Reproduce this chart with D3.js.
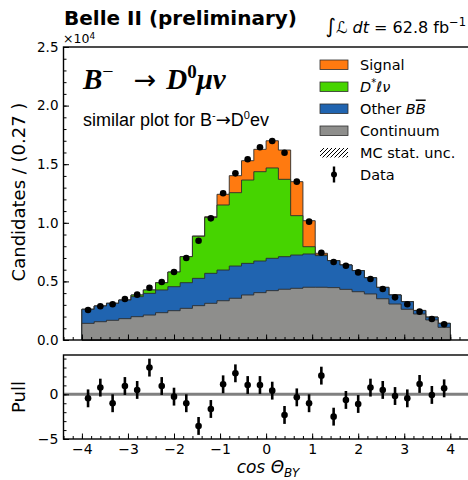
<!DOCTYPE html>
<html>
<head>
<meta charset="utf-8">
<script src="https://cdn.jsdelivr.net/npm/d3@7"></script>
<style>
  body { margin: 0; background: #fff; }
  text { font-family: "DejaVu Sans", sans-serif; fill: #000; }
</style>
</head>
<body>
<svg id="chart" width="468" height="480"></svg>
<script>
// histogram binning of cos(theta_BY), 30 bins from -4 to 4
const binLo = -4, binHi = 4, nBins = 30;

// stacked components, per bin, in units of 1e4 candidates (bottom to top)
const continuum = [0.142, 0.156, 0.168, 0.182, 0.199, 0.213, 0.233, 0.250, 0.270, 0.293,
                   0.313, 0.335, 0.356, 0.384, 0.404, 0.421, 0.433, 0.441, 0.450, 0.450,
                   0.447, 0.432, 0.412, 0.393, 0.352, 0.307, 0.262, 0.222, 0.171, 0.108];
const otherBB   = [0.120, 0.134, 0.145, 0.159, 0.171, 0.185, 0.194, 0.205, 0.219, 0.233,
                   0.256, 0.262, 0.275, 0.270, 0.270, 0.276, 0.278, 0.284, 0.284, 0.270,
                   0.230, 0.208, 0.180, 0.138, 0.097, 0.077, 0.065, 0.030, 0.024, 0.034];
const dstarLnu  = [0, 0, 0, 0, 0.014, 0.029, 0.062, 0.125, 0.222, 0.359,
                   0.476, 0.555, 0.626, 0.711, 0.762, 0.771, 0.660, 0.336, 0.062, 0.005,
                   0, 0, 0, 0, 0, 0, 0, 0, 0, 0];
const signal    = [0, 0, 0, 0, 0, 0, 0, 0, 0, 0.002,
                   0.007, 0.091, 0.145, 0.165, 0.191, 0.232, 0.250, 0.290, 0.222, 0.015,
                   0, 0, 0, 0, 0, 0, 0, 0, 0, 0];
const dataPts   = [0.256, 0.288, 0.305, 0.350, 0.387, 0.446, 0.495, 0.580, 0.700, 0.847,
                   1.038, 1.252, 1.422, 1.542, 1.644, 1.698, 1.598, 1.351, 1.010, 0.745,
                   0.666, 0.634, 0.577, 0.521, 0.435, 0.364, 0.305, 0.242, 0.179, 0.134];
const pulls     = [-0.45, 0.75, -1.0, 0.93, 0.49, 2.99, 0.93, -0.26, -1.0, -3.54,
                   -1.64, 1.12, 2.35, 1.04, 1.04, 0.41, -2.31, -0.34, -1.0, 2.09,
                   -2.5, -0.63, -1.08, 0.75, 0.49, -0.19, -0.45, 1.16, -0.07, 0.67];

const components = [
  {name: "Continuum", values: continuum, color: "#8e8e8c"},
  {name: "Other BB", values: otherBB, color: "#2064b0"},
  {name: "D*lnu", values: dstarLnu, color: "#46d400"},
  {name: "Signal", values: signal, color: "#ff7a10"}
];

const svg = d3.select("#chart");

// defs: hatch for MC stat unc
svg.append("defs").append("pattern")
    .attr("id", "hatch").attr("patternUnits", "userSpaceOnUse")
    .attr("width", 4).attr("height", 4)
  .append("path")
    .attr("d", "M-1,1 l2,-2 M0,4 l4,-4 M3,5 l2,-2")
    .attr("stroke", "#000").attr("stroke-width", 1);

const x = d3.scaleLinear().domain([-4.4, 4.4]).range([63.5, 468.7]);
const y = d3.scaleLinear().domain([0, 2.5]).range([340, 47]);
const yp = d3.scaleLinear().domain([-5, 4.4]).range([439, 355]);

const binW = (binHi - binLo) / nBins;
const edges = d3.range(nBins + 1).map(i => binLo + i * binW);
const centers = d3.range(nBins).map(i => binLo + (i + 0.5) * binW);

// cumulative tops
let cum = new Array(nBins).fill(0);
const layers = components.map(c => {
  cum = cum.map((v, i) => v + c.values[i]);
  return {color: c.color, tops: cum.slice()};
});

function stepPath(tops) {
  let p = "M" + x(edges[0]) + "," + y(0);
  tops.forEach((t, i) => {
    p += "L" + x(edges[i]) + "," + y(t) + "L" + x(edges[i + 1]) + "," + y(t);
  });
  p += "L" + x(edges[nBins]) + "," + y(0) + "Z";
  return p;
}

// draw from largest (total) down so each top outline stays visible
const gMain = svg.append("g");
layers.slice().reverse().forEach(l => {
  gMain.append("path")
    .attr("d", stepPath(l.tops))
    .attr("fill", l.color)
    .attr("stroke", "#2d2d2d")
    .attr("stroke-width", 0.9);
});

gMain.selectAll("circle.data")
  .data(dataPts)
  .join("circle")
    .attr("class", "data")
    .attr("cx", (d, i) => x(centers[i]))
    .attr("cy", d => y(d))
    .attr("r", 3.3)
    .attr("fill", "#000");

// axes, ticks pointing inward
function inwardAxis(axisFn, scale, major, minor, fmt) {
  return [
    axisFn(scale).tickValues(minor).tickSize(-3).tickFormat(""),
    axisFn(scale).tickValues(major).tickSize(-5.5).tickPadding(5).tickFormat(fmt)
  ];
}

const yMajor = d3.range(0, 2.51, 0.5);
const yMinor = d3.range(0, 2.501, 0.1);
inwardAxis(d3.axisLeft, y, yMajor, yMinor, d3.format(".1f")).forEach(a => {
  svg.append("g").attr("transform", "translate(63.5,0)").call(a)
    .call(g => g.select(".domain").remove())
    .call(g => g.selectAll("text").style("font-size", "13.5px"));
});

const xMajor = d3.range(-4, 4.01, 1);
const xMinor = d3.range(-4.4, 4.41, 0.2);
inwardAxis(d3.axisBottom, x, xMajor, xMinor, "").forEach(a => {
  svg.append("g").attr("transform", "translate(0,340)").call(a)
    .call(g => g.select(".domain").remove());
});

svg.append("rect")
  .attr("x", 63.5).attr("y", 47).attr("width", 406).attr("height", 293)
  .attr("fill", "none").attr("stroke", "#000").attr("stroke-width", 1.4);

// pull panel
const gPull = svg.append("g");
gPull.append("line")
  .attr("x1", 63.5).attr("x2", 469).attr("y1", yp(0)).attr("y2", yp(0))
  .attr("stroke", "#808080").attr("stroke-width", 3);

gPull.selectAll("line.err")
  .data(pulls)
  .join("line")
    .attr("class", "err")
    .attr("x1", (d, i) => x(centers[i])).attr("x2", (d, i) => x(centers[i]))
    .attr("y1", d => yp(d - 1)).attr("y2", d => yp(d + 1))
    .attr("stroke", "#000").attr("stroke-width", 2.6);

gPull.selectAll("circle.pull")
  .data(pulls)
  .join("circle")
    .attr("class", "pull")
    .attr("cx", (d, i) => x(centers[i]))
    .attr("cy", d => yp(d))
    .attr("r", 3.3)
    .attr("fill", "#000");

inwardAxis(d3.axisLeft, yp, [-5, 0], d3.range(-5, 4.1, 1), d3.format("d")).forEach(a => {
  svg.append("g").attr("transform", "translate(63.5,0)").call(a)
    .call(g => g.select(".domain").remove())
    .call(g => g.selectAll("text").style("font-size", "14px"));
});
inwardAxis(d3.axisBottom, x, xMajor, xMinor, d3.format("d")).forEach(a => {
  svg.append("g").attr("transform", "translate(0,439)").call(a)
    .call(g => g.select(".domain").remove())
    .call(g => g.selectAll("text").style("font-size", "14px"));
});

svg.append("rect")
  .attr("x", 63.5).attr("y", 355).attr("width", 406).attr("height", 84)
  .attr("fill", "none").attr("stroke", "#000").attr("stroke-width", 1.4);

// labels
svg.append("text")
  .attr("transform", "translate(25,192) rotate(-90)")
  .attr("text-anchor", "middle")
  .style("font-size", "18px")
  .text("Candidates / (0.27 )");

svg.append("text")
  .attr("transform", "translate(25,397) rotate(-90)")
  .attr("text-anchor", "middle")
  .style("font-size", "18px")
  .text("Pull");

const xl = svg.append("text")
  .attr("x", 268).attr("y", 473)
  .attr("text-anchor", "middle")
  .style("font-size", "17px")
  .style("font-style", "italic");
xl.append("tspan").text("cos Θ");
xl.append("tspan").attr("dy", 4).style("font-size", "12px").text("BY");

svg.append("text")
  .attr("x", 64).attr("y", 25)
  .style("font-size", "20px").style("font-weight", "bold")
  .text("Belle II (preliminary)");

const sci = svg.append("text").attr("x", 63).attr("y", 43).style("font-size", "12.5px");
sci.append("tspan").text("×10");
sci.append("tspan").attr("dy", -4.5).style("font-size", "9px").text("4");

const lumi = svg.append("text")
  .attr("x", 466).attr("y", 33)
  .attr("text-anchor", "end")
  .style("font-size", "16px");
lumi.append("tspan").style("font-size", "20px").text("∫");
lumi.append("tspan").style("font-style", "italic").text("ℒ dt");
lumi.append("tspan").text(" = 62.8 fb");
lumi.append("tspan").attr("dy", -7).style("font-size", "11.5px").text("−1");

// decay label
const decay = svg.append("text")
  .attr("x", 83).attr("y", 89)
  .style("font-family", "'Liberation Serif', serif")
  .style("font-size", "29px");
decay.append("tspan").style("font-weight", "bold").style("font-style", "italic").text("B");
decay.append("tspan").attr("dy", -11).style("font-size", "20px").text("−");
decay.append("tspan").attr("dy", 11).attr("dx", 20).style("font-family", "'DejaVu Sans', sans-serif")
  .style("font-size", "27px").text("→");
decay.append("tspan").attr("dx", 10).style("font-weight", "bold").style("font-style", "italic").text("D");
decay.append("tspan").attr("dy", -11).style("font-size", "19px").style("font-weight", "bold").text("0");
decay.append("tspan").attr("dy", 11).style("font-weight", "bold").style("font-style", "italic").text("μν");

const sim = svg.append("text")
  .attr("x", 83).attr("y", 126)
  .style("font-family", "'Liberation Sans', Arial, sans-serif")
  .style("font-size", "18px");
sim.append("tspan").text("similar plot for B");
sim.append("tspan").attr("dy", -7).style("font-size", "11px").text("-");
sim.append("tspan").attr("dy", 7).style("font-family", "'DejaVu Sans', sans-serif").text("→");
sim.append("tspan").text("D");
sim.append("tspan").attr("dy", -7).style("font-size", "11px").text("0");
sim.append("tspan").attr("dy", 7).text("ev");

// legend
const legendRows = [
  {key: "Signal", fill: "#ff7a10"},
  {key: "dstar", fill: "#46d400"},
  {key: "other", fill: "#2064b0"},
  {key: "Continuum", fill: "#8e8e8c"},
  {key: "MC stat. unc.", fill: "url(#hatch)"},
  {key: "Data", fill: null}
];
const leg = svg.append("g");
legendRows.forEach((r, i) => {
  const cy = 64.5 + i * 22;
  if (r.fill) {
    leg.append("rect")
      .attr("x", 320).attr("y", cy - 4.5).attr("width", 28).attr("height", 9.5)
      .attr("fill", r.fill)
      .attr("stroke", r.key === "MC stat. unc." ? "none" : "#2d2d2d")
      .attr("stroke-width", 0.8);
  } else {
    leg.append("line").attr("x1", 334).attr("x2", 334).attr("y1", cy - 8).attr("y2", cy + 8)
      .attr("stroke", "#000").attr("stroke-width", 2.4);
    leg.append("circle").attr("cx", 334).attr("cy", cy).attr("r", 3).attr("fill", "#000");
  }
  const t = leg.append("text").attr("x", 360).attr("y", cy + 5).style("font-size", "14.5px");
  if (r.key === "dstar") {
    t.append("tspan").style("font-style", "italic").text("D");
    t.append("tspan").attr("dy", -6).style("font-size", "10px").text("*");
    t.append("tspan").attr("dy", 6).style("font-style", "italic").text("ℓν");
  } else if (r.key === "other") {
    t.append("tspan").text("Other ");
    t.append("tspan").style("font-style", "italic").text("B");
    t.append("tspan").style("font-style", "italic").style("text-decoration", "overline").text("B");
  } else {
    t.text(r.key);
  }
});
</script>
</body>
</html>
